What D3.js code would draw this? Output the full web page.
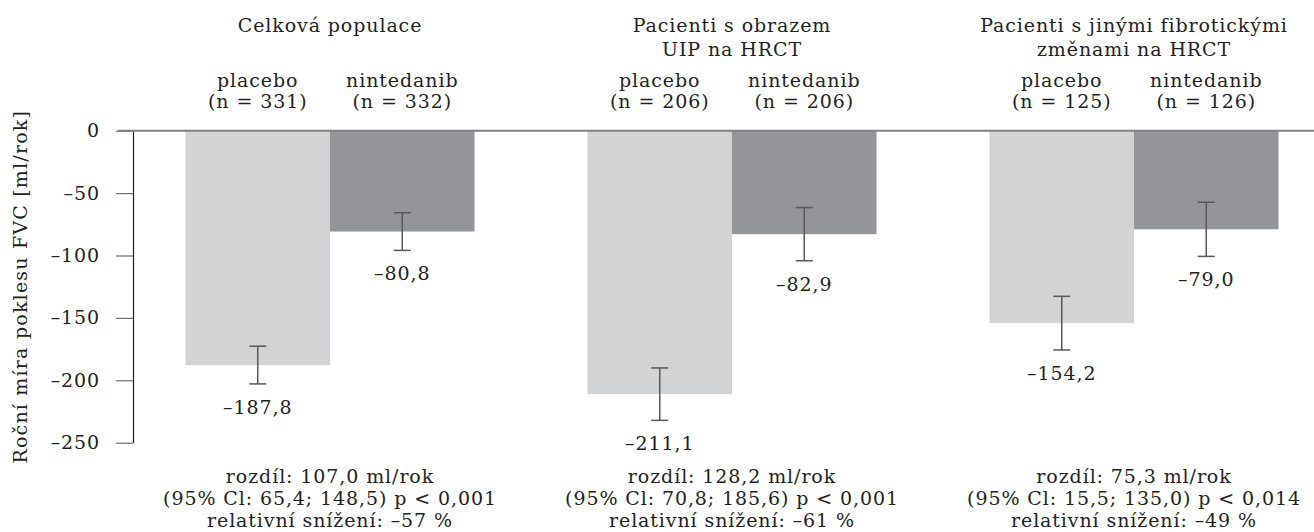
<!DOCTYPE html>
<html>
<head>
<meta charset="utf-8">
<script src="https://cdn.jsdelivr.net/npm/d3@7"></script>
<style>
  body { margin: 0; background: #fff; }
  svg text { font-family: "DejaVu Serif", serif; fill: #231f20; }
</style>
</head>
<body>
<svg id="chart" width="1314" height="532"></svg>
<script>
// data
var groups = ["all", "uip", "other"];
var groupTitles = [
    ["Celková populace"],
    ["Pacienti s obrazem", "UIP na HRCT"],
    ["Pacienti s jinými fibrotickými", "změnami na HRCT"]
];
var series = ["placebo", "nintedanib"];
var placeboN = [331, 206, 125];
var nintedanibN = [332, 206, 126];
var placeboValues = [-187.8, -211.1, -154.2];
var nintedanibValues = [-80.8, -82.9, -79.0];
var placeboErr = [15.1, 21.0, 21.5];
var nintedanibErr = [15.1, 21.3, 21.7];
var footnotes = [
    ["rozdíl: 107,0 ml/rok", "(95% Cl: 65,4; 148,5) p < 0,001", "relativní snížení: –57 %"],
    ["rozdíl: 128,2 ml/rok", "(95% Cl: 70,8; 185,6) p < 0,001", "relativní snížení: –61 %"],
    ["rozdíl: 75,3 ml/rok", "(95% Cl: 15,5; 135,0) p < 0,014", "relativní snížení: –49 %"]
];
var yTicks = [0, -50, -100, -150, -200, -250];
var yTitle = "Roční míra poklesu FVC [ml/rok]";

var colors = { placebo: "#d1d3d4", nintedanib: "#939598" };

var svg = d3.select("#chart");
var fontSize = 19, spacing = 0.9;

var x0 = d3.scaleBand().domain(groups).range([129, 1335])
    .paddingInner(0.281).paddingOuter(0.1405);
var x1 = d3.scaleBand().domain(series).range([0, x0.bandwidth()]);
var y = d3.scaleLinear().domain([-250, 0]).range([442.7, 130.7]);

var fmt = v => (v < 0 ? "\u2013" : "") + d3.format(".1f")(Math.abs(v)).replace(".", ",");

// rows of data
var rows = [];
groups.forEach((g, i) => {
    rows.push({ g: g, s: "placebo", v: placeboValues[i], e: placeboErr[i], n: placeboN[i] });
    rows.push({ g: g, s: "nintedanib", v: nintedanibValues[i], e: nintedanibErr[i], n: nintedanibN[i] });
});
var cx = d => x0(d.g) + x1(d.s) + x1.bandwidth() / 2;

function txt(sel) {
    return sel.style("font-size", fontSize + "px").style("letter-spacing", spacing + "px");
}

// bars
svg.append("g").selectAll("rect").data(rows).enter().append("rect")
    .attr("x", d => x0(d.g) + x1(d.s))
    .attr("width", x1.bandwidth())
    .attr("y", y(0))
    .attr("height", d => y(d.v) - y(0))
    .attr("fill", d => colors[d.s]);

// error bars
var eb = svg.append("g").attr("stroke", "#58595b").attr("stroke-width", 1.5);
rows.forEach(d => {
    eb.append("line").attr("x1", cx(d)).attr("x2", cx(d)).attr("y1", y(d.v + d.e)).attr("y2", y(d.v - d.e));
    eb.append("line").attr("x1", cx(d) - 8.5).attr("x2", cx(d) + 8.5).attr("y1", y(d.v + d.e)).attr("y2", y(d.v + d.e));
    eb.append("line").attr("x1", cx(d) - 8.5).attr("x2", cx(d) + 8.5).attr("y1", y(d.v - d.e)).attr("y2", y(d.v - d.e));
});

// value labels
svg.append("g").selectAll("text").data(rows).enter().append("text")
    .attr("x", cx).attr("y", d => y(d.v - d.e) + 30)
    .attr("text-anchor", "middle")
    .call(txt)
    .text(d => fmt(d.v));

// y axis
var yAxis = d3.axisLeft(y).tickValues(yTicks).tickSize(17).tickSizeOuter(0).tickPadding(16)
    .tickFormat(v => (v < 0 ? "\u2013" : "") + Math.abs(v));
var ga = svg.append("g").attr("transform", "translate(133,0)").call(yAxis);
ga.select(".domain").attr("stroke", "#231f20").attr("stroke-width", 1.2);
ga.selectAll(".tick line").attr("stroke", "#6d6e71").attr("stroke-width", 1.2);
ga.selectAll(".tick text").call(txt).attr("font-family", null).attr("fill", "#231f20");

// zero line
svg.append("line").attr("x1", 118).attr("x2", 1314).attr("y1", y(0)).attr("y2", y(0))
    .attr("stroke", "#808285").attr("stroke-width", 2);

// y title
svg.append("text")
    .attr("transform", "translate(27," + ((y(0) + y(-250)) / 2) + ") rotate(-90)")
    .attr("text-anchor", "middle")
    .style("font-size", "19px").style("letter-spacing", "1.2px")
    .text(yTitle);

// headers
groups.forEach((g, i) => {
    var c = x0(g) + x0.bandwidth() / 2;
    groupTitles[i].forEach((t, k) => {
        svg.append("text").attr("x", c).attr("y", 32 + k * 24).attr("text-anchor", "middle")
            .call(txt).text(t);
    });
    footnotes[i].forEach((t, k) => {
        svg.append("text").attr("x", c).attr("y", 483 + k * 22).attr("text-anchor", "middle")
            .call(txt).text(t);
    });
});
svg.append("g").selectAll("text").data(rows).enter().append("text")
    .attr("x", cx).attr("y", 87).attr("text-anchor", "middle")
    .call(txt).text(d => d.s);
svg.append("g").selectAll("text").data(rows).enter().append("text")
    .attr("x", cx).attr("y", 108).attr("text-anchor", "middle")
    .call(txt).text(d => "(n = " + d.n + ")");
</script>
</body>
</html>
